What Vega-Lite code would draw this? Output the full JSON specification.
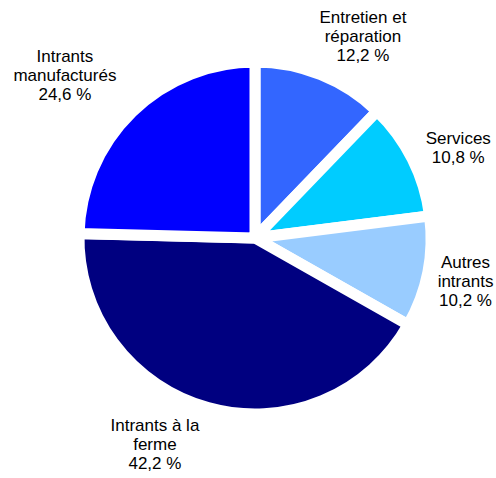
{
  "$schema": "https://vega.github.io/schema/vega-lite/v6.json",
  "width": 482,
  "height": 476,
  "autosize": "none",
  "padding": {"left": 14, "top": 0, "right": 0, "bottom": 2},
  "background": "white",
  "view": {"stroke": null},
  "data": {
    "values": [
      {"cat": "Entretien et réparation", "label": "Entretien et\nréparation\n12,2 %", "value": 12.2},
      {"cat": "Services", "label": "Services\n10,8 %", "value": 10.8},
      {"cat": "Autres intrants", "label": "Autres\nintrants\n10,2 %", "value": 10.2},
      {"cat": "Intrants à la ferme", "label": "Intrants à la\nferme\n42,2 %", "value": 42.2},
      {"cat": "Intrants manufacturés", "label": "Intrants\nmanufacturés\n24,6 %", "value": 24.6}
    ]
  },
  "transform": [{"window": [{"op": "row_number", "as": "rank"}]}],
  "encoding": {
    "theta": {"field": "value", "type": "quantitative", "stack": true},
    "order": {"field": "rank", "type": "quantitative", "sort": "ascending"}
  },
  "layer": [
    {
      "mark": {"type": "arc", "radius": 176, "stroke": "white", "strokeWidth": 11},
      "encoding": {
        "color": {
          "field": "cat",
          "type": "nominal",
          "legend": null,
          "scale": {
            "domain": ["Entretien et réparation", "Services", "Autres intrants", "Intrants à la ferme", "Intrants manufacturés"],
            "range": ["#3366FF", "#00CCFF", "#99CCFF", "#000080", "#0000FF"]
          }
        }
      }
    },
    {
      "mark": {"type": "text", "radius": 228, "thetaOffset": 0.11, "dy": -19, "lineBreak": "\n", "font": "Liberation Sans", "fontSize": 17, "lineHeight": 19, "align": "center", "baseline": "middle", "color": "black"},
      "encoding": {"text": {"condition": {"test": "datum.cat === 'Entretien et réparation'", "field": "label"}, "value": ""}}
    },
    {
      "mark": {"type": "text", "radius": 222, "thetaOffset": 0.051, "dy": -9.5, "lineBreak": "\n", "font": "Liberation Sans", "fontSize": 17, "lineHeight": 19, "align": "center", "baseline": "middle", "color": "black"},
      "encoding": {"text": {"condition": {"test": "datum.cat === 'Services'", "field": "label"}, "value": ""}}
    },
    {
      "mark": {"type": "text", "radius": 215, "thetaOffset": 0.01, "dy": -19, "lineBreak": "\n", "font": "Liberation Sans", "fontSize": 17, "lineHeight": 19, "align": "center", "baseline": "middle", "color": "black"},
      "encoding": {"text": {"condition": {"test": "datum.cat === 'Autres intrants'", "field": "label"}, "value": ""}}
    },
    {
      "mark": {"type": "text", "radius": 230, "thetaOffset": 0.18, "dy": -19, "lineBreak": "\n", "font": "Liberation Sans", "fontSize": 17, "lineHeight": 19, "align": "center", "baseline": "middle", "color": "black"},
      "encoding": {"text": {"condition": {"test": "datum.cat === 'Intrants à la ferme'", "field": "label"}, "value": ""}}
    },
    {
      "mark": {"type": "text", "radius": 250, "thetaOffset": -0.091, "dy": -19, "lineBreak": "\n", "font": "Liberation Sans", "fontSize": 17, "lineHeight": 19, "align": "center", "baseline": "middle", "color": "black"},
      "encoding": {"text": {"condition": {"test": "datum.cat === 'Intrants manufacturés'", "field": "label"}, "value": ""}}
    }
  ]
}
